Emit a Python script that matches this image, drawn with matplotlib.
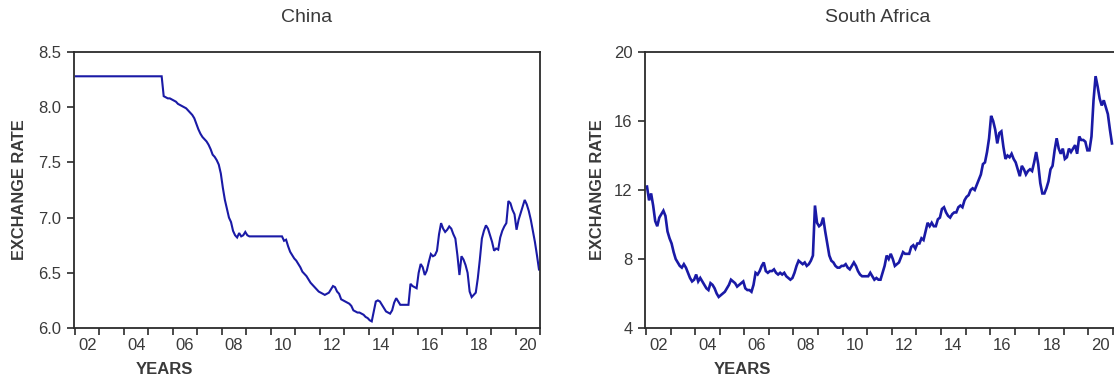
import numpy as np
import matplotlib
matplotlib.use("Agg")
import matplotlib.pyplot as plt

plt.rcParams["font.family"] = ["Liberation Sans", "DejaVu Sans"]

# monthly exchange rates per US dollar, Jan 2002 - Dec 2020
china_rate = [
    8.28, 8.28, 8.28, 8.28, 8.28, 8.28, 8.28, 8.28, 8.28, 8.28, 8.28, 8.28,  # 2002
    8.28, 8.28, 8.28, 8.28, 8.28, 8.28, 8.28, 8.28, 8.28, 8.28, 8.28, 8.28,  # 2003
    8.28, 8.28, 8.28, 8.28, 8.28, 8.28, 8.28, 8.28, 8.28, 8.28, 8.28, 8.28,  # 2004
    8.28, 8.28, 8.28, 8.28, 8.28, 8.28, 8.28, 8.10, 8.09, 8.08, 8.08, 8.07,  # 2005
    8.06, 8.05, 8.03, 8.02, 8.01, 8.00, 7.99, 7.97, 7.95, 7.93, 7.90, 7.85,  # 2006
    7.80, 7.76, 7.73, 7.71, 7.69, 7.66, 7.62, 7.57, 7.55, 7.52, 7.48, 7.40,  # 2007
    7.27, 7.16, 7.08, 7.00, 6.96, 6.88, 6.84, 6.82, 6.86, 6.83, 6.84, 6.87,  # 2008
    6.84, 6.83, 6.83, 6.83, 6.83, 6.83, 6.83, 6.83, 6.83, 6.83, 6.83, 6.83,  # 2009
    6.83, 6.83, 6.83, 6.83, 6.83, 6.83, 6.79, 6.80, 6.74, 6.69, 6.66, 6.63,  # 2010
    6.61, 6.58, 6.55, 6.51, 6.49, 6.47, 6.44, 6.41, 6.39, 6.37, 6.35, 6.33,  # 2011
    6.32, 6.31, 6.30, 6.31, 6.32, 6.35, 6.38, 6.37, 6.33, 6.31, 6.26, 6.25,  # 2012
    6.24, 6.23, 6.22, 6.20, 6.16, 6.15, 6.14, 6.14, 6.13, 6.12, 6.10, 6.09,  # 2013
    6.07, 6.06, 6.15, 6.24, 6.25, 6.24, 6.21, 6.18, 6.15, 6.14, 6.13, 6.16,  # 2014
    6.23, 6.27, 6.24, 6.21, 6.21, 6.21, 6.21, 6.21, 6.40, 6.38, 6.37, 6.36,  # 2015
    6.50, 6.58, 6.55, 6.48, 6.52, 6.60, 6.67, 6.65, 6.66, 6.70, 6.85, 6.95,  # 2016
    6.90, 6.87, 6.89, 6.92, 6.90, 6.85, 6.81, 6.66, 6.48, 6.65, 6.62, 6.57,  # 2017
    6.50, 6.33, 6.28, 6.30, 6.32, 6.45, 6.62, 6.81, 6.88, 6.93, 6.90, 6.84,  # 2018
    6.78, 6.70, 6.72, 6.71, 6.82, 6.88, 6.92, 6.95, 7.15, 7.13, 7.07, 7.03,  # 2019
    6.89, 6.98, 7.04, 7.10, 7.16, 7.12, 7.06, 6.98, 6.88, 6.78, 6.66, 6.53,  # 2020
]

safrica_rate = [
    12.2, 11.4, 11.8, 11.1, 10.2, 9.9, 10.4, 10.6, 10.8, 10.5, 9.6, 9.2,     # 2002
    8.9, 8.4, 8.0, 7.8, 7.6, 7.5, 7.7, 7.5, 7.2, 6.9, 6.7, 6.8,              # 2003
    7.1, 6.7, 6.9, 6.7, 6.5, 6.3, 6.2, 6.6, 6.5, 6.3, 6.0, 5.8,              # 2004
    5.9, 6.0, 6.1, 6.3, 6.5, 6.8, 6.7, 6.6, 6.4, 6.5, 6.6, 6.7,              # 2005
    6.3, 6.2, 6.2, 6.1, 6.5, 7.2, 7.1, 7.3, 7.6, 7.8, 7.3, 7.2,              # 2006
    7.3, 7.3, 7.4, 7.2, 7.1, 7.2, 7.1, 7.2, 7.0, 6.9, 6.8, 6.9,              # 2007
    7.2, 7.6, 7.9, 7.8, 7.7, 7.8, 7.6, 7.7, 7.9, 8.2, 11.1, 10.1,            # 2008
    9.9, 10.0, 10.4, 9.6, 8.9, 8.2, 7.9, 7.8, 7.6, 7.5, 7.5, 7.6,            # 2009
    7.6, 7.7, 7.5, 7.4, 7.6, 7.8, 7.6, 7.3, 7.1, 7.0, 7.0, 7.0,              # 2010
    7.0, 7.2, 7.0, 6.8, 6.9, 6.8, 6.8, 7.2, 7.6, 8.2, 8.0, 8.3,              # 2011
    8.0, 7.6, 7.7, 7.8, 8.1, 8.4, 8.3, 8.3, 8.3, 8.7, 8.8, 8.6,              # 2012
    8.9, 8.9, 9.2, 9.1, 9.6, 10.1, 9.9, 10.1, 9.9, 9.9, 10.3, 10.4,         # 2013
    10.9, 11.0, 10.7, 10.5, 10.4, 10.6, 10.7, 10.7, 11.0, 11.1, 11.0, 11.4,  # 2014
    11.6, 11.7, 12.0, 12.1, 12.0, 12.3, 12.6, 12.9, 13.5, 13.6, 14.2, 15.0,  # 2015
    16.3, 16.0, 15.5, 14.7, 15.3, 15.4, 14.5, 13.8, 14.0, 13.9, 14.1, 13.8,  # 2016
    13.6, 13.2, 12.8, 13.4, 13.2, 12.9, 13.1, 13.2, 13.1, 13.6, 14.2, 13.5,  # 2017
    12.4, 11.8, 11.8, 12.1, 12.5, 13.2, 13.4, 14.3, 15.0, 14.4, 14.1, 14.4,  # 2018
    13.8, 13.9, 14.4, 14.2, 14.4, 14.6, 14.1, 15.1, 14.9, 14.9, 14.8, 14.3,  # 2019
    14.3, 15.1, 17.2, 18.6, 18.0, 17.3, 16.9, 17.2, 16.8, 16.4, 15.5, 14.7,  # 2020
]

year_labels = ["02", "04", "06", "08", "10", "12", "14", "16", "18", "20"]

months = 2002 + (np.arange(len(china_rate)) + 0.5) / 12

W, H = 1114, 385
fig = plt.figure(figsize=(W / 100, H / 100), dpi=100)
fig.patch.set_facecolor("white")

line_col = "#1a1aa6"
axis_col = "#2b2b2b"
text_col = "#3a3a3a"


def draw_panel(ax, rates, yticks, fmt, title, lw, xmax):
    ax.plot(months, rates, color=line_col, lw=lw, solid_joinstyle="miter")
    ax.set_xlim(2001.96, xmax)
    ax.set_ylim(yticks[0], yticks[-1])
    ax.set_yticks(yticks)
    ax.set_yticklabels([fmt.format(v) for v in yticks])
    ax.set_xticks(range(2002, 2022))
    ax.set_xticklabels([])
    ax.set_xticks(np.arange(2002.5, 2021, 2), minor=True)
    ax.set_xticklabels(year_labels, minor=True)
    ax.tick_params(axis="x", which="major", direction="out", length=5,
                   width=1.2, color=axis_col)
    ax.tick_params(axis="x", which="minor", length=0, pad=7,
                   labelsize=12, labelcolor=text_col)
    ax.tick_params(axis="y", direction="out", length=5, width=1.2,
                   color=axis_col, pad=4, labelsize=12, labelcolor=text_col)
    for s in ax.spines.values():
        s.set_color(axis_col)
        s.set_linewidth(1.3)
    pos = ax.get_position()
    fig.text((74 + 233) / W if title == "China" else (645 + 233) / W,
             1 - 18 / H, title, ha="center", va="center", fontsize=14,
             color=text_col)


ax1 = fig.add_axes([74 / W, 57 / H, 466 / W, 276 / H])
draw_panel(ax1, china_rate, [6.0, 6.5, 7.0, 7.5, 8.0, 8.5], "{:.1f}", "China",
           1.5, 2021.0)
# the right-hand panel runs past the edge of the canvas
ax2 = fig.add_axes([645 / W, 57 / H, 472 / W, 276 / H])
draw_panel(ax2, safrica_rate, [4, 8, 12, 16, 20], "{:d}", "South Africa",
           1.9, 2021.0 + 4 / 24.5)

# axis titles, placed the way the original software lays them out
for x_y, x_x in [(20, 164), (597, 742)]:
    fig.text(x_y / W, 1 - 190 / H, "EXCHANGE RATE", rotation=90, ha="center",
             va="center", fontsize=11.8, fontweight="bold", color=text_col)
    fig.text(x_x / W, 1 - 370 / H, "YEARS", ha="center", va="center",
             fontsize=12, fontweight="bold", color=text_col)

fig.savefig("out.png", dpi=100, facecolor="white")
